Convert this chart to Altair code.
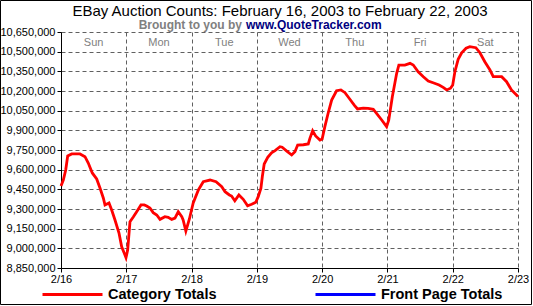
import altair as alt
import pandas as pd

FONT = "Liberation Sans"

title_text = "EBay Auction Counts: February 16, 2003 to February 22, 2003"
subtitle_grey = "Brought to you by"
subtitle_blue = "www.QuoteTracker.com"

x_labels = ["2/16", "2/17", "2/18", "2/19", "2/20", "2/21", "2/22", "2/23"]
days = ["Sun", "Mon", "Tue", "Wed", "Thu", "Fri", "Sat"]
series_names = ["Category Totals", "Front Page Totals"]
series_colors = ["#FF0000", "#0000FF"]

# hours since 2/16 00:00
hours = [0, 0.85, 1.73, 2.46, 3.93, 6.98, 8.82, 10.03, 11.5, 13.12,
         14.33, 15.55, 16.17, 17.64, 18.63, 19.85, 21.32, 22.31, 23.52, 23.89,
         24.51, 25.36, 26.57, 27.82, 29.4, 30.6, 31.5, 32.7, 33.9, 35.2,
         36.4, 38.2, 39.4, 40.7, 41.9, 43.1, 44.4, 44.9, 45.9, 47.2,
         48.6, 50.5, 52.3, 54.8, 57.0, 59.1, 60.3, 61.9, 62.7, 63.9,
         65.4, 67.0, 68.6, 70.1, 71.6, 72.5, 73.5, 74.0, 74.7, 76.0,
         77.4, 78.7, 80.5, 81.3, 83.0, 84.8, 86.0, 87.0, 89.1, 90.9,
         91.5, 92.5, 93.6, 95.2, 96.0, 97.0, 98.2, 99.5, 101.3, 102.9,
         104.4, 106.2, 107.8, 109.0, 111.1, 112.9, 114.8, 116.0, 117.9, 119.7,
         120.5, 121.8, 123.4, 124.2, 126.4, 128.3, 129.5, 131.3, 133.2, 135.0,
         136.8, 139.0, 140.5, 141.8, 143.2, 144.0, 144.8, 146.0, 147.3, 148.9,
         150.3, 152.5, 154.0, 155.8, 157.7, 158.9, 160.4, 162.0, 163.8, 165.6,
         168.0]

# auction counts, in thousands
counts_thousands = [9475, 9521, 9597, 9704, 9720, 9720, 9699, 9651, 9575, 9529,
                    9460, 9384, 9331, 9346, 9292, 9216, 9117, 9012, 8949, 8929,
                    8987, 9203, 9239, 9279, 9331, 9331, 9323, 9308, 9272, 9254,
                    9221, 9241, 9237, 9221, 9231, 9279, 9241, 9216, 9132, 9224,
                    9346, 9445, 9508, 9521, 9508, 9470, 9432, 9407, 9399, 9363,
                    9407, 9374, 9325, 9336, 9351, 9394, 9458, 9546, 9643, 9694,
                    9729, 9745, 9775, 9771, 9742, 9712, 9737, 9788, 9790, 9796,
                    9839, 9897, 9857, 9826, 9834, 9928, 10030, 10131, 10202, 10208,
                    10187, 10137, 10093, 10063, 10070, 10068, 10060, 10030, 9979, 9928,
                    9979, 10156, 10335, 10398, 10398, 10411, 10398, 10347, 10309, 10276,
                    10263, 10246, 10228, 10208, 10221, 10246, 10347, 10442, 10492, 10526,
                    10538, 10530, 10492, 10423, 10360, 10309, 10309, 10309, 10271, 10208,
                    10158]

y_min, y_max, y_step = 8850000, 10650000, 150000

df = pd.DataFrame({
    "hour": hours,
    "count": [v * 1000 for v in counts_thousands],
    "series": series_names[0],
})

label_expr = "[" + ",".join("'%s'" % s for s in x_labels) + "][round(datum.value/24)]"

grid_color = "#606060"

line = alt.Chart(df).mark_line(strokeWidth=2.8).encode(
    x=alt.X("hour:Q",
            scale=alt.Scale(domain=[0, 168], nice=False, zero=False),
            axis=alt.Axis(values=[24 * i for i in range(len(x_labels))],
                          labelExpr=label_expr, title=None, grid=True,
                          gridDash=[4, 3], gridColor=grid_color, gridOpacity=1,
                          domainColor="black", tickColor="black", tickSize=4,
                          labelFont=FONT, labelFontSize=11, labelColor="black",
                          labelPadding=1, labelFlush=False)),
    y=alt.Y("count:Q",
            scale=alt.Scale(domain=[y_min, y_max], nice=False, zero=False),
            axis=alt.Axis(values=list(range(y_min, y_max + 1, y_step)),
                          format=",.0f", title=None, grid=True,
                          gridDash=[4, 3], gridColor=grid_color, gridOpacity=1,
                          domainColor="black", tickColor="black", tickSize=4,
                          labelFont=FONT, labelFontSize=11, labelColor="black",
                          labelPadding=2, labelFlush=False)),
    color=alt.Color("series:N",
                    scale=alt.Scale(domain=series_names, range=series_colors),
                    legend=alt.Legend(orient="none", legendX=-20, legendY=231,
                                      direction="horizontal", title=None,
                                      symbolType="stroke", symbolSize=3600,
                                      symbolStrokeWidth=3, labelFont=FONT,
                                      labelFontSize=14.5, labelFontWeight="bold",
                                      labelColor="black", labelOffset=4,
                                      columnPadding=92, labelLimit=300)),
)

day_df = pd.DataFrame({"day": days, "hour": [24 * i + 12 for i in range(len(days))]})
day_text = alt.Chart(day_df).mark_text(font=FONT, fontSize=11, color="#808080",
                                       baseline="middle").encode(
    x="hour:Q", y=alt.value(11), text="day:N")

title = alt.Chart(pd.DataFrame({"t": [title_text]})).mark_text(
    font=FONT, fontSize=15, color="black", align="center", baseline="middle"
).encode(x=alt.value(219), y=alt.value(-21), text="t:N")

sub1 = alt.Chart(pd.DataFrame({"t": [subtitle_grey]})).mark_text(
    font=FONT, fontSize=12, fontWeight="bold", color="#808080", align="right",
    baseline="middle"
).encode(x=alt.value(181), y=alt.value(-7), text="t:N")

sub2 = alt.Chart(pd.DataFrame({"t": [subtitle_blue]})).mark_text(
    font=FONT, fontSize=12, fontWeight="bold", color="#000080", align="left",
    baseline="middle"
).encode(x=alt.value(185), y=alt.value(-7), text="t:N")

border = alt.Chart(pd.DataFrame({"a": [0]})).mark_rect(
    fill="transparent", stroke="black", strokeWidth=1
).encode(x=alt.value(-60.5), x2=alt.value(470.5), y=alt.value(-31.5), y2=alt.value(272.5))

chart = alt.layer(line, day_text, title, sub1, sub2, border).properties(
    width=457, height=236,
    padding={"left": 61, "top": 32, "right": 15, "bottom": 38},
    autosize=alt.AutoSizeParams(type="none"),
    background="white",
).configure_view(strokeWidth=0)

chart.save("out.html", embed_options={"renderer": "svg", "actions": False})
